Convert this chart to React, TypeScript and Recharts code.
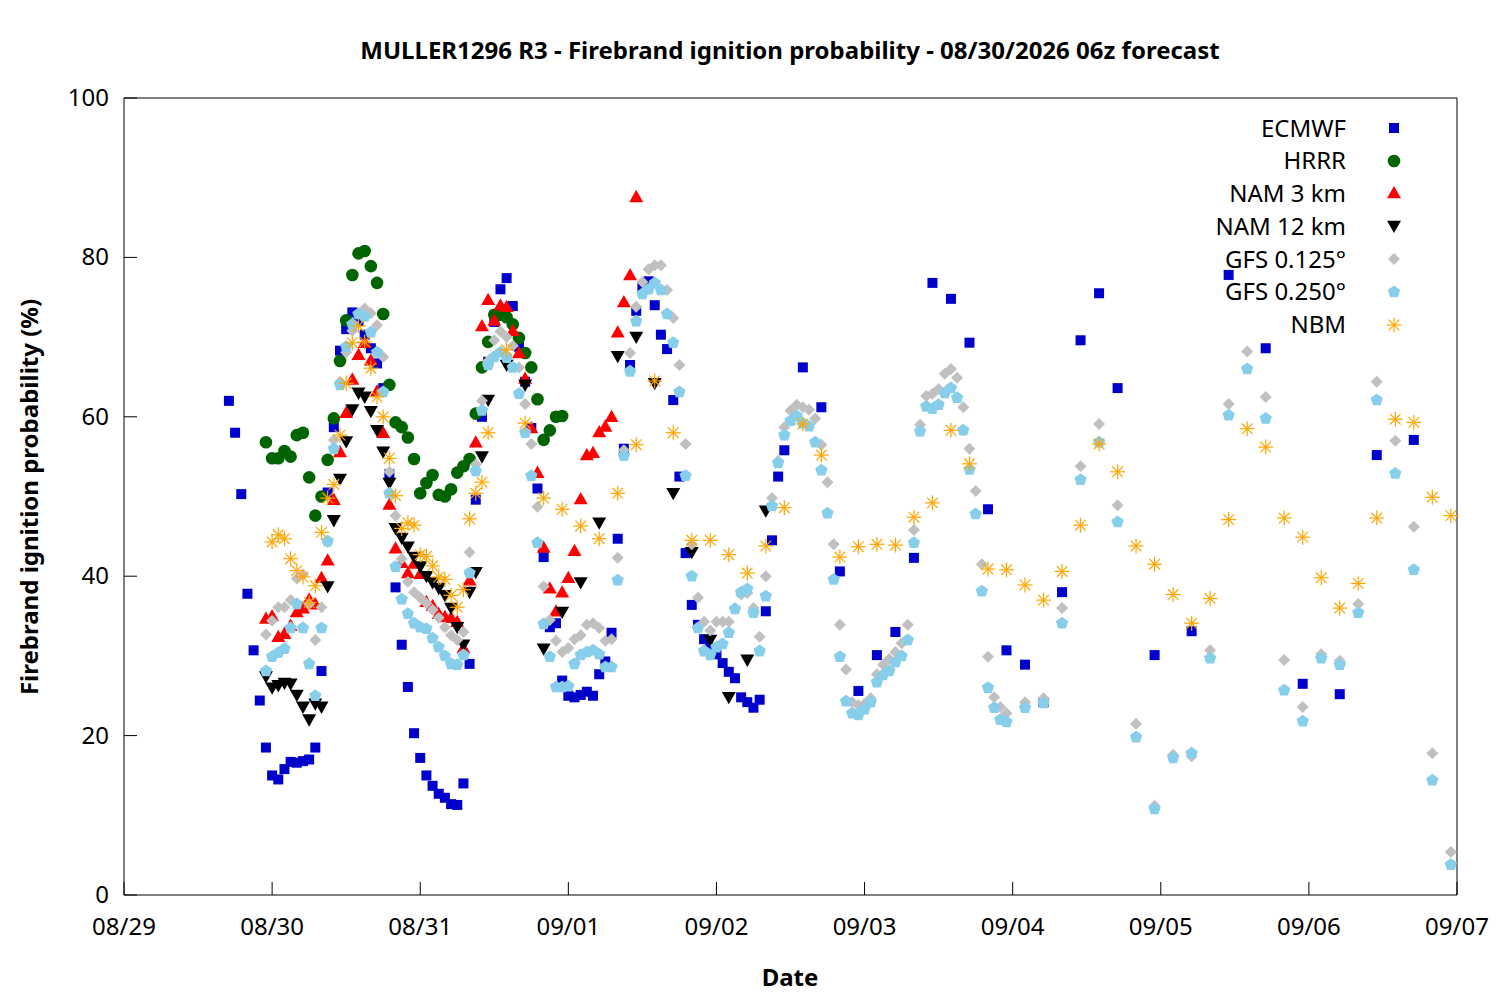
import { Scatter, ScatterChart, XAxis, YAxis } from 'recharts'

// hours since 08/29 00:00 local; ticks every 24 h
const DATE_TICKS = [0, 24, 48, 72, 96, 120, 144, 168, 192, 216]
const DATE_LABELS = ['08/29', '08/30', '08/31', '09/01', '09/02', '09/03', '09/04', '09/05', '09/06', '09/07']
const PROB_TICKS = [0, 20, 40, 60, 80, 100]

// hourly runs are stored as a start hour plus the values
const ECMWF_START = 17
const ECMWF_HOURLY = [
  62, 58, 50.3, 37.8, 30.7, 24.4, 18.5, 15, 14.5, 15.8,
  16.7, 16.6, 16.8, 17, 18.5, 28.1, 50.5, 58.7, 68.3, 71,
  73.1, 72, 70.3, 68.6, 66.7, 63.6, 52.8, 38.6, 31.4, 26.1,
  20.3, 17.2, 15, 13.7, 12.7, 12.2, 11.4, 11.3, 14, 29,
  49.6, 60, 66.9, 71.9, 76, 77.4, 73.9, 68.8, 64.4, 58.6,
  51, 42.4, 33.6, 34.1, 26.9, 25, 24.8, 25.1, 25.5, 25,
  27.7, 29.3, 32.9, 44.7, 56, 66.5, 73.3, 76.3, 77, 74,
  70.3, 68.5, 62.1, 52.5, 42.9, 36.4, 33.9, 32.1, 31, 30.2,
  29.1, 28, 27.2, 24.8, 24.2, 23.5, 24.5, 35.6, 44.5, 52.5,
  55.8,
]
const ECMWF_LATER: [number, number][] = [
  [110, 66.2], [113, 61.2], [116, 40.6], [119, 25.6], [122, 30.1], [125, 33], [128, 42.3],
  [131, 76.8], [134, 74.8], [137, 69.3], [140, 48.4], [143, 30.7], [146, 28.9], [149, 24.2],
  [152, 38], [155, 69.6], [158, 75.5], [161, 63.6], [167, 30.1], [173, 33.1], [179, 77.8],
  [185, 68.6], [191, 26.5], [197, 25.2], [203, 55.2], [209, 57.1],
]

const HRRR_START = 23
const HRRR_HOURLY = [
  56.8, 54.8, 54.8, 55.7, 55, 57.7, 58, 52.4, 47.6, 50,
  54.6, 59.8, 67, 72.1, 77.8, 80.5, 80.8, 78.9, 76.8, 72.9,
  64, 59.3, 58.7, 57.4, 54.7, 50.4, 51.7, 52.7, 50.2, 50,
  50.9, 53, 53.8, 54.7, 60.4, 66.2, 69.4, 72.8, 72.8, 72.5,
  71.6, 69.9, 68, 66.2, 62.2, 57.1, 58.3, 60, 60.1,
]

const NAM3_START = 23
const NAM3_HOURLY = [
  34.7, 35, 32.4, 32.8, 33.8, 35.5, 36, 37.1, 36.5, 39.8,
  42, 49.6, 55.6, 60.5, 64.7, 67.8, 69.3, 67.1, 63.2, 58,
  49, 43.5, 41.7, 40.4, 41.6, 40.3, 36.8, 36.3, 35.3, 34.9,
  34.8, 34.3, 31, 39.5, 56.8, 71.4, 74.7, 72.1, 74, 73.8,
  70.8, 68, 64.8, 58.6, 53, 43.6, 38.5, 35.6, 38, 39.8,
  43.2, 49.7, 55.2, 55.5, 58.1, 58.8, 60, 70.6, 74.4, 77.8,
  87.6,
]

const NAM12_START = 23
const NAM12_HOURLY = [
  27.4, 26, 26.3, 26.6, 26.5, 25.1, 23.6, 22, 24, 23.6,
  38.7, 47, 52.2, 56.9, 60.9, 63, 62.5, 60.7, 58.3, 55.6,
  51.7, 46, 44.8, 43.7, 42.4, 41.2, 40, 39.2, 38.5, 37.6,
  36, 33.6, 31.4, 38, 40.5, 55, 62.1,
]
const NAM12_LATER: [number, number][] = [
  [62, 66.5], [65, 64], [68, 30.9], [71, 35.5], [74, 39.2], [77, 46.7], [80, 67.6], [83, 70],
  [86, 64.2], [89, 50.4], [92, 43], [95, 32], [98, 24.8], [101, 29.5], [104, 48.2],
]

const GFS125_START = 23
const GFS125_HOURLY = [
  32.7, 34.4, 36.1, 36.1, 37, 39.7, 40.2, 36.5, 32, 36.1,
  44.3, 57.1, 64.4, 68.1, 70.8, 73, 73.6, 73, 71.5, 67.5,
  53.1, 47.6, 42.2, 39.3, 38, 37.3, 36.6, 35.8, 34.8, 33.6,
  32.6, 32, 33, 43, 54, 62, 67, 69.6, 70.7, 70,
  68.9, 66.2, 61.6, 56.6, 48.7, 38.7, 34.5, 31.9, 30.5, 31,
  32.1, 32.6, 33.9, 34.1, 33.5, 31.9, 32.1, 42.3, 55.8, 68,
  73.8, 76.9, 78.5, 79, 79, 75.9, 72.4, 66.5, 56.6, 44,
  37.3, 34.3, 33.2, 34.3, 34.3, 34.3, 36, 37.7, 37.9, 36,
  32.4, 40, 49.8, 54.5, 58.7, 60.8, 61.5, 61.2, 60.9, 59.8,
  56.5, 51.8, 44, 33.9, 28.3, 24.2, 23.8, 24, 24.7, 27.7,
  28.9, 29.6, 30.5, 31.6, 33.9, 45.8, 59, 62.6, 62.9, 63.5,
  65.4, 66, 64.9, 61.2, 56, 50.7, 41.5, 29.9, 24.8, 23.6, 22.8,
]
const GFS125_LATER: [number, number][] = [
  [146, 24.2], [149, 24.7], [152, 36], [155, 53.8], [158, 59.1], [161, 48.9], [164, 21.5],
  [167, 11.2], [170, 17.6], [173, 17.4], [176, 30.7], [179, 61.6], [182, 68.2], [185, 62.5],
  [188, 29.5], [191, 23.6], [194, 30.2], [197, 29.4], [200, 36.5], [203, 64.4], [206, 57],
  [209, 46.2], [212, 17.8], [215, 5.4],
]

const GFS250_START = 23
const GFS250_HOURLY = [
  28.1, 29.9, 30.4, 30.9, 33.5, 36.5, 33.5, 29, 25, 33.5,
  44.4, 56, 64, 68.8, 71.6, 72.9, 72.6, 70.6, 68.1, 63.1,
  50.4, 41.2, 37.1, 35.3, 34.1, 33.6, 33.4, 32.2, 31.1, 30,
  29, 28.9, 30.1, 40.4, 53.2, 60.8, 66.5, 67.5, 68.1, 67.4,
  66.2, 62.9, 58, 52.6, 44.2, 34, 29.9, 26.1, 26.1, 26.2,
  29, 30.1, 30.5, 30.7, 30.2, 28.6, 28.6, 39.5, 55.1, 65.7,
  72, 75.4, 76, 76.8, 75.9, 72.9, 69.3, 63.1, 52.6, 40,
  33.5, 30.6, 30.1, 31.1, 31.5, 32.9, 35.9, 38, 38.4, 35.4,
  30.6, 37.5, 48.8, 54.2, 57.7, 59.5, 60.1, 59.2, 58.8, 56.8,
  53.3, 47.9, 39.6, 29.9, 24.3, 22.8, 22.6, 23.3, 24.2, 26.7,
  27.6, 28.1, 29.2, 30, 32, 44.2, 58.2, 61.3, 61, 61.5,
  63, 63.6, 62.4, 58.3, 53.4, 47.8, 38.1, 26, 23.5, 22, 21.7,
]
const GFS250_LATER: [number, number][] = [
  [146, 23.5], [149, 24.1], [152, 34.1], [155, 52.1], [158, 56.8], [161, 46.8], [164, 19.8],
  [167, 10.8], [170, 17.2], [173, 17.8], [176, 29.7], [179, 60.2], [182, 66], [185, 59.8],
  [188, 25.7], [191, 21.8], [194, 29.7], [197, 28.9], [200, 35.4], [203, 62.1], [206, 52.9],
  [209, 40.8], [212, 14.4], [215, 3.8],
]

const NBM_START = 24
const NBM_HOURLY = [
  44.3, 45.2, 44.7, 42.2, 40.7, 39.9, 36.7, 38.8, 45.5, 49.8,
  51.5, 57.7, 64.2, 69.3, 71.4, 69.4, 66.1, 62.5, 60, 54.8,
  50.1, 46, 46.7, 46.4, 42.7, 42.5, 41.3, 39.9, 39.6, 37.6,
  36.1, 38.3, 47.2, 50.4, 51.8, 58,
]
const NBM_LATER: [number, number][] = [
  [62, 68.4], [65, 59.2], [68, 49.8], [71, 48.4], [74, 46.3], [77, 44.7], [80, 50.4], [83, 56.5],
  [86, 64.5], [89, 58], [92, 44.5], [95, 44.5], [98, 42.7], [101, 40.4], [104, 43.8], [107, 48.6],
  [110, 59.1], [113, 55.2], [116, 42.4], [119, 43.7], [122, 44], [125, 43.9], [128, 47.4],
  [131, 49.2], [134, 58.3], [137, 54.1], [140, 40.9], [143, 40.8], [146, 38.9], [149, 37],
  [152, 40.6], [155, 46.4], [158, 56.6], [161, 53.1], [164, 43.8], [167, 41.5], [170, 37.7],
  [173, 34.1], [176, 37.2], [179, 47.1], [182, 58.5], [185, 56.2], [188, 47.3], [191, 44.9],
  [194, 39.8], [197, 36], [200, 39.1], [203, 47.3], [206, 59.7], [209, 59.3], [212, 49.9],
  [215, 47.6],
]

type Pt = { h: number; v: number }

function points(start: number, hourly: number[], later: [number, number][] = []): Pt[] {
  return [...hourly.map((v, i) => ({ h: start + i, v })), ...later.map(([h, v]) => ({ h, v }))]
}

const FONT = '"Noto Sans", sans-serif'

// marker glyphs, gnuplot-style
type MarkProps = { cx?: number; cy?: number; color: string }

function Mark({ kind, cx = 0, cy = 0, color }: MarkProps & { kind: string }) {
  switch (kind) {
    case 'square':
      return <rect x={cx - 5} y={cy - 5} width={10} height={10} fill={color} />
    case 'circle':
      return <circle cx={cx} cy={cy} r={6.3} fill={color} />
    case 'up':
      return <polygon points={`${cx - 7},${cy + 5.3} ${cx + 7},${cy + 5.3} ${cx},${cy - 7}`} fill={color} />
    case 'down':
      return <polygon points={`${cx - 7},${cy - 5.3} ${cx + 7},${cy - 5.3} ${cx},${cy + 7}`} fill={color} />
    case 'diamond':
      return <polygon points={`${cx},${cy - 6} ${cx + 6},${cy} ${cx},${cy + 6} ${cx - 6},${cy}`} fill={color} />
    case 'pentagon': {
      const r = 6.5
      const pts = [0, 1, 2, 3, 4]
        .map((k) => {
          const a = -Math.PI / 2 + (k * 2 * Math.PI) / 5
          return `${cx + r * Math.cos(a)},${cy + r * Math.sin(a)}`
        })
        .join(' ')
      return <polygon points={pts} fill={color} />
    }
    default: {
      const r = 7.5
      const d = r * 0.7071
      return (
        <g stroke={color} strokeWidth={1.2}>
          <line x1={cx - r} y1={cy} x2={cx + r} y2={cy} />
          <line x1={cx} y1={cy - r} x2={cx} y2={cy + r} />
          <line x1={cx - d} y1={cy - d} x2={cx + d} y2={cy + d} />
          <line x1={cx - d} y1={cy + d} x2={cx + d} y2={cy - d} />
        </g>
      )
    }
  }
}

const SERIES = [
  { name: 'ECMWF', kind: 'square', color: '#0000cc', data: points(ECMWF_START, ECMWF_HOURLY, ECMWF_LATER) },
  { name: 'HRRR', kind: 'circle', color: '#006400', data: points(HRRR_START, HRRR_HOURLY) },
  { name: 'NAM 3 km', kind: 'up', color: '#ff0000', data: points(NAM3_START, NAM3_HOURLY) },
  { name: 'NAM 12 km', kind: 'down', color: '#000000', data: points(NAM12_START, NAM12_HOURLY, NAM12_LATER) },
  { name: 'GFS 0.125°', kind: 'diamond', color: '#c0c0c0', data: points(GFS125_START, GFS125_HOURLY, GFS125_LATER) },
  { name: 'GFS 0.250°', kind: 'pentagon', color: '#87ceeb', data: points(GFS250_START, GFS250_HOURLY, GFS250_LATER) },
  { name: 'NBM', kind: 'star', color: '#ffa500', data: points(NBM_START, NBM_HOURLY, NBM_LATER) },
]

const TICK_LEN = 13
const TICK_FONT = 24

function BottomTick({ x, y, payload }: any) {
  const i = DATE_TICKS.indexOf(payload.value)
  return (
    <g>
      <line x1={x} y1={y} x2={x} y2={y - TICK_LEN} stroke="#000" />
      <text x={x} y={y + 40} textAnchor="middle" fontSize={TICK_FONT} fontFamily={FONT} fill="#000">
        {DATE_LABELS[i]}
      </text>
    </g>
  )
}

function TopTick({ x, y }: any) {
  return <line x1={x} y1={y} x2={x} y2={y + TICK_LEN} stroke="#000" />
}

function LeftTick({ x, y, payload }: any) {
  return (
    <g>
      <line x1={x} y1={y} x2={x + TICK_LEN} y2={y} stroke="#000" />
      <text x={x - 15} y={y + 8} textAnchor="end" fontSize={TICK_FONT} fontFamily={FONT} fill="#000">
        {payload.value}
      </text>
    </g>
  )
}

function RightTick({ x, y }: any) {
  return <line x1={x} y1={y} x2={x - TICK_LEN} y2={y} stroke="#000" />
}

const W = 1484
const H = 984

export default function App() {
  return (
    <div style={{ position: 'relative', width: W, height: H, fontFamily: FONT }}>
      <ScatterChart width={W} height={H} margin={{ top: 0, right: 0, bottom: 0, left: 0 }}>
        <XAxis
          type="number"
          dataKey="h"
          domain={[0, 216]}
          ticks={DATE_TICKS}
          height={97}
          tickSize={0}
          tickMargin={0}
          tickLine={false}
          axisLine={{ stroke: '#000' }}
          tick={BottomTick}
          interval={0}
        />
        <XAxis
          xAxisId="top"
          orientation="top"
          type="number"
          domain={[0, 216]}
          ticks={DATE_TICKS}
          height={90}
          tickSize={0}
          tickMargin={0}
          tickLine={false}
          axisLine={{ stroke: '#000' }}
          tick={TopTick}
          interval={0}
        />
        <YAxis
          type="number"
          dataKey="v"
          domain={[0, 100]}
          ticks={PROB_TICKS}
          width={116}
          tickSize={0}
          tickMargin={0}
          tickLine={false}
          axisLine={{ stroke: '#000' }}
          tick={LeftTick}
          interval={0}
        />
        <YAxis
          yAxisId="right"
          orientation="right"
          type="number"
          domain={[0, 100]}
          ticks={PROB_TICKS}
          width={35}
          tickSize={0}
          tickMargin={0}
          tickLine={false}
          axisLine={{ stroke: '#000' }}
          tick={RightTick}
          interval={0}
        />
        {SERIES.map((s) => (
          <Scatter
            key={s.name}
            name={s.name}
            data={s.data}
            isAnimationActive={false}
            shape={(p: any) => <Mark kind={s.kind} cx={p.cx} cy={p.cy} color={s.color} />}
          />
        ))}
      </ScatterChart>

      <div
        style={{
          position: 'absolute',
          left: 782,
          top: 25,
          transform: 'translateX(-50%)',
          whiteSpace: 'nowrap',
          fontSize: 24,
          fontWeight: 700,
          color: '#000',
        }}
      >
        MULLER1296 R3 - Firebrand ignition probability - 08/30/2026 06z forecast
      </div>
      <div
        style={{
          position: 'absolute',
          left: 782,
          top: 952,
          transform: 'translateX(-50%)',
          whiteSpace: 'nowrap',
          fontSize: 24,
          fontWeight: 700,
        }}
      >
        Date
      </div>
      <div
        style={{
          position: 'absolute',
          left: 20,
          top: 489,
          transform: 'translate(-50%, -50%) rotate(-90deg)',
          whiteSpace: 'nowrap',
          fontSize: 24,
          fontWeight: 700,
        }}
      >
        Firebrand ignition probability (%)
      </div>

      <div style={{ position: 'absolute', left: 1088, top: 103.5 }}>
        {SERIES.map((s) => (
          <div key={s.name} style={{ display: 'flex', alignItems: 'center', height: 32.8 }}>
            <span style={{ width: 250, textAlign: 'right', fontSize: 24, lineHeight: '32.8px' }}>{s.name}</span>
            <svg width={96} height={32} style={{ display: 'block' }}>
              <Mark kind={s.kind} cx={48} cy={16} color={s.color} />
            </svg>
          </div>
        ))}
      </div>
    </div>
  )
}
